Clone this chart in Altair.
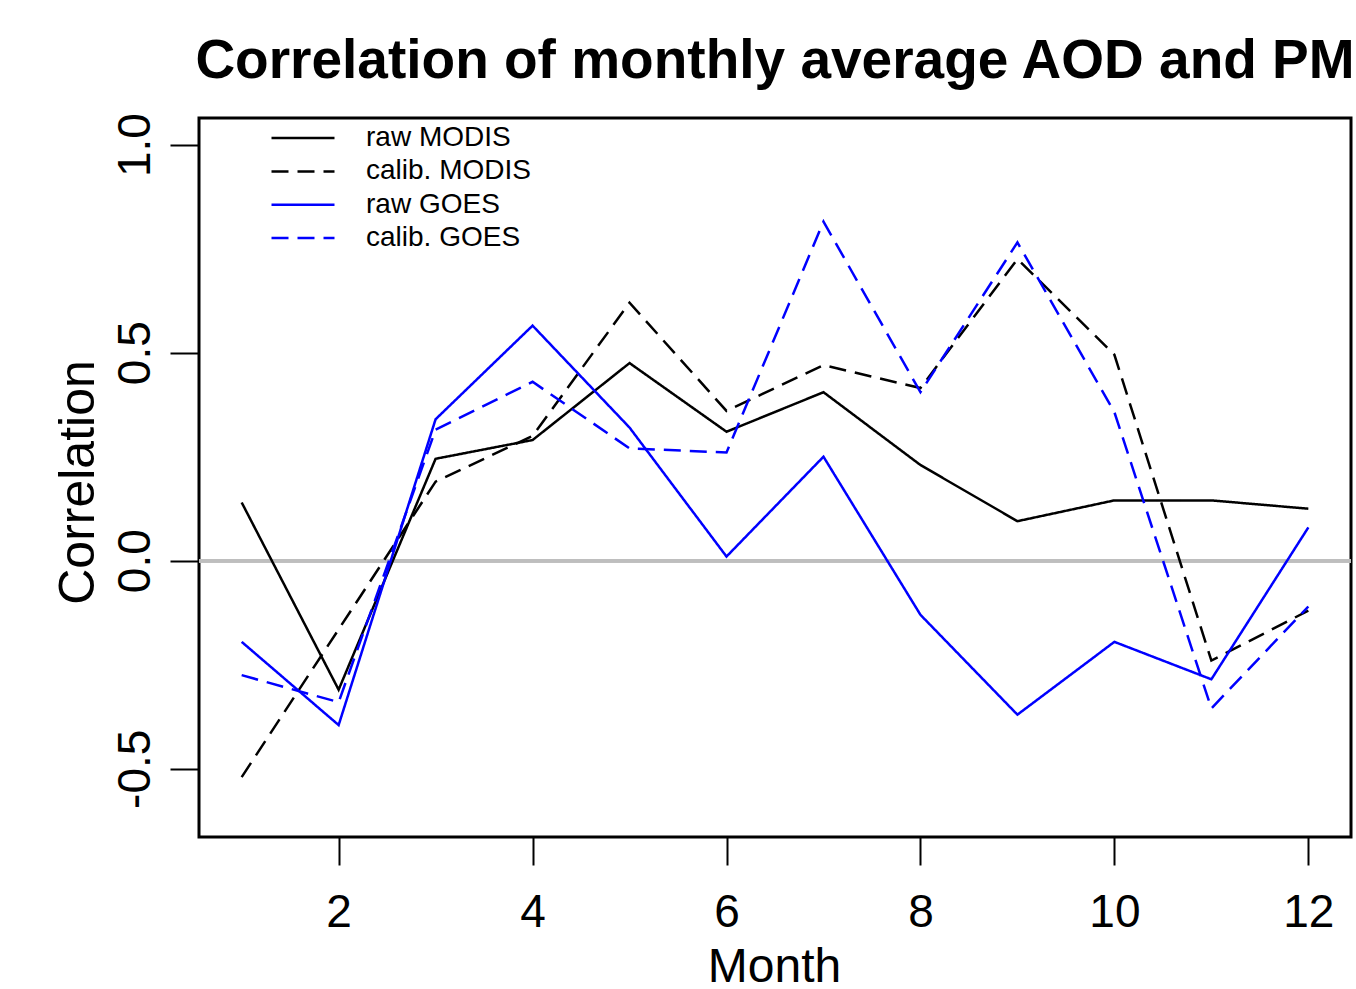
import altair as alt
import pandas as pd

months = list(range(1, 13))
raw_modis = [0.14, -0.31, 0.245, 0.29, 0.475, 0.31, 0.405, 0.23, 0.095, 0.145, 0.145, 0.125]
calib_modis = [-0.52, -0.165, 0.19, 0.30, 0.62, 0.36, 0.47, 0.415, 0.725, 0.495, -0.24, -0.12]
raw_goes = [-0.195, -0.395, 0.34, 0.565, 0.32, 0.01, 0.25, -0.13, -0.37, -0.195, -0.285, 0.08]
calib_goes = [-0.275, -0.34, 0.315, 0.43, 0.27, 0.26, 0.815, 0.405, 0.765, 0.357, -0.355, -0.11]

series_names = ["raw MODIS", "calib. MODIS", "raw GOES", "calib. GOES"]
series_colors = ["#000000", "#000000", "#0000FF", "#0000FF"]
series_dash = [[1, 0], [17, 9], [1, 0], [17, 9]]
x_ticks = [2, 4, 6, 8, 10, 12]
y_ticks = [-0.5, 0.0, 0.5, 1.0]

rows = []
for name, vals in zip(series_names, [raw_modis, calib_modis, raw_goes, calib_goes]):
    for m, v in zip(months, vals):
        rows.append({"Month": m, "Correlation": v, "series": name})
df = pd.DataFrame(rows)

FONT = "Liberation Sans"

x_enc = alt.X(
    "Month:Q",
    scale=alt.Scale(domain=[0.56, 12.44], nice=False, zero=False),
    axis=alt.Axis(
        values=x_ticks, tickSize=28, tickWidth=2, tickColor="black",
        labelFontSize=46, labelFont=FONT, labelColor="black", labelPadding=25,
        domain=False, grid=False, title="Month", titleFont=FONT, titleFontSize=48,
        titleFontWeight="normal", titleColor="black", titleBaseline="alphabetic",
        titleX=575, titleY=144, titleAlign="center",
    ),
)
y_enc = alt.Y(
    "Correlation:Q",
    scale=alt.Scale(domain=[-0.664, 1.064], nice=False, zero=False),
    axis=alt.Axis(
        values=y_ticks, tickSize=29, tickWidth=2, tickColor="black",
        labelFontSize=46, labelFont=FONT, labelColor="black", labelPadding=21,
        labelAngle=270, labelAlign="center", labelBaseline="alphabetic",
        labelExpr="datum.value < 0 ? '-' + format(-datum.value, '.1f') : format(datum.value, '.1f')",
        domain=False, grid=False, title="Correlation", titleFont=FONT, titleFontSize=50,
        titleFontWeight="normal", titleColor="black", titleAngle=270,
        titleBaseline="alphabetic", titleAlign="center", titleX=-106, titleY=364,
    ),
)

legend_opts = dict(
    title=None, orient="none", legendX=71, legendY=4.6,
    symbolType="stroke", symbolSize=3969, symbolStrokeWidth=2.5,
    labelFontSize=28, labelFont=FONT, labelColor="black", labelOffset=30,
    labelLimit=400, clipHeight=31, rowPadding=2.3, padding=0, symbolOffset=0,
)

zero_line = alt.Chart(df).mark_rule(color="#BEBEBE", strokeWidth=3).encode(y=alt.datum(0))

lines = alt.Chart(df).mark_line(strokeWidth=2.5).encode(
    x=x_enc,
    y=y_enc,
    color=alt.Color(
        "series:N",
        scale=alt.Scale(domain=series_names, range=series_colors),
        legend=alt.Legend(**legend_opts),
    ),
    strokeDash=alt.StrokeDash(
        "series:N",
        scale=alt.Scale(domain=series_names, range=series_dash),
        legend=alt.Legend(**legend_opts),
    ),
)

chart = alt.layer(zero_line, lines).properties(
    width=1152,
    height=719,
    title=alt.TitleParams(
        text="Correlation of monthly average AOD and PM",
        fontSize=55, font=FONT, fontWeight="bold", color="black",
        anchor="middle", baseline="alphabetic", offset=38, dy=58,
    ),
    autosize=alt.AutoSizeParams(type="none"),
    padding={"left": 199, "top": 118, "right": 5, "bottom": 152},
).configure(
    background="white"
).configure_view(
    stroke="black", strokeWidth=3
)

chart.save("out.html", embed_options={"renderer": "svg", "actions": False})
